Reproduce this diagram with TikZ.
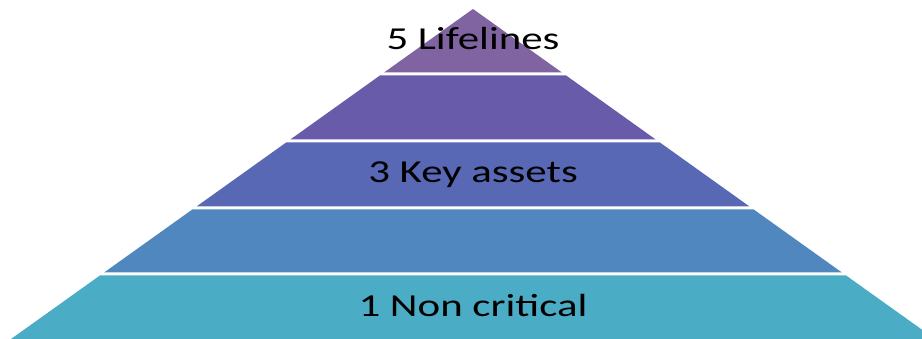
\documentclass[tikz,border=0pt]{standalone}
\usepackage{fontspec}
\setmainfont{Carlito}
\definecolor{cA}{RGB}{128,100,162}
\definecolor{cB}{RGB}{104,92,170}
\definecolor{cC}{RGB}{88,104,180}
\definecolor{cD}{RGB}{79,135,190}
\definecolor{cE}{RGB}{75,172,198}
\tikzset{
  lbl/.style={anchor=base, inner sep=0pt, font=\fontsize{32}{36}\selectfont, text=black}
}
\newcommand\wide[1]{\scalebox{1.34}[1]{#1}}
\begin{document}
\begin{tikzpicture}[x=1pt,y=-1pt]
\useasboundingbox (0,0) rectangle (922,339);
\fill[white] (0,0) rectangle (922,339);
\foreach \ya/\yb/\c in {9/72.5/cA, 75.5/139.5/cB, 142.5/206.5/cC, 209.5/272.5/cD, 275.5/345/cE}{
  \fill[\c] ({473-1.4*(\ya-9)},\ya) -- ({473+1.4*(\ya-9)},\ya) -- ({473+1.4*(\yb-9)},\yb) -- ({473-1.4*(\yb-9)},\yb) -- cycle;
}
\node[lbl] (t5) at (473,50) {\wide{5 Lifelines}};
\node[lbl] (t3) at (473,183) {\wide{3 Key assets}};
\node[lbl] (t1) at (473,317) {\wide{1 Non critical}};
\end{tikzpicture}
\end{document}
